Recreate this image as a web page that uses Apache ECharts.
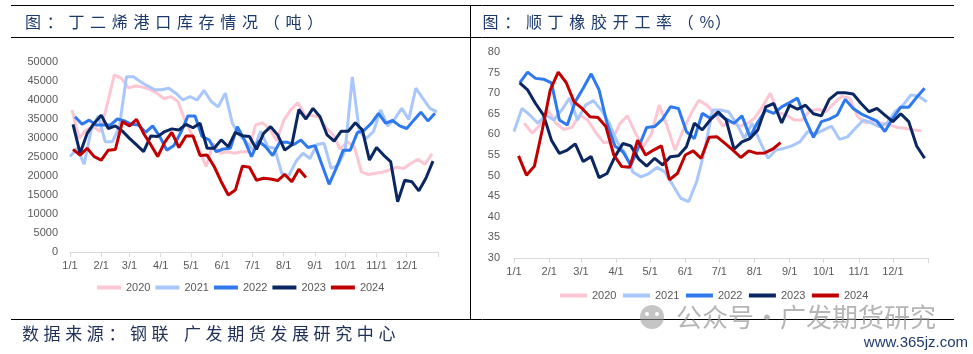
<!DOCTYPE html>
<html>
<head>
<meta charset="utf-8">
<title>丁二烯港口库存 / 顺丁橡胶开工率</title>
<script src="https://cdn.jsdelivr.net/npm/echarts@6/dist/echarts.min.js"></script>
<style>
  html, body { margin: 0; padding: 0; background: #fff; }
  #chart { width: 973px; height: 354px; }
</style>
</head>
<body>
<div id="chart"></div>
<script>
var years = ['2020', '2021', '2022', '2023', '2024'];
var monthDays = [0, 31, 59, 90, 120, 151, 181, 212, 243, 273, 304, 334];
var monthLabels = ['1/1', '2/1', '3/1', '4/1', '5/1', '6/1', '7/1', '8/1', '9/1', '10/1', '11/1', '12/1'];

// 丁二烯港口库存（吨），周度
var stock2020 = [37400, 29900, 32100, 33000, 31700, 38900, 46600, 45700, 43200, 43700, 43400, 42800, 41800, 40400, 40900, 39600, 34700, 30800, 26800, 22500, 28600, 26000, 26400, 26000, 26400, 26400, 33400, 34000, 32400, 29200, 34700, 37400, 39300, 36000, 35900, 35600, 32700, 30800, 27100, 29000, 27700, 21100, 20400, 20700, 21000, 21600, 22300, 22000, 23300, 24400, 23100, 25800];
var stock2021 = [25100, 27300, 23100, 32100, 35800, 29000, 29000, 33000, 46100, 46100, 44800, 43700, 42700, 42700, 43100, 41800, 40000, 40900, 40000, 42500, 39600, 38200, 41800, 33900, 30800, 28800, 26800, 31800, 27700, 27300, 20700, 20100, 23800, 26000, 24600, 28300, 28600, 22000, 22900, 26800, 46100, 31700, 29900, 31700, 37400, 33200, 35000, 37800, 34900, 43100, 40400, 37800, 36900];
var stock2022 = [35600, 33600, 34700, 33400, 33400, 33400, 35000, 34500, 33600, 33400, 31500, 33200, 30400, 26800, 28000, 31500, 35800, 35800, 30400, 29500, 26400, 27100, 27300, 33000, 29500, 25100, 29200, 27700, 25400, 28900, 28900, 28300, 29500, 27500, 28000, 22900, 17800, 22000, 26800, 26800, 31400, 32100, 33900, 36500, 33900, 34600, 33200, 32500, 34700, 36800, 34500, 36500];
var stock2023 = [33600, 26000, 31200, 33900, 36000, 32500, 33200, 31800, 29900, 28200, 26400, 30500, 30400, 31700, 32400, 32100, 33600, 32700, 33900, 27300, 27300, 29500, 27700, 31500, 30600, 30400, 27000, 31200, 33000, 30800, 26800, 28200, 37500, 35000, 37800, 35600, 30800, 29200, 31800, 31800, 34000, 32100, 24200, 27500, 25500, 23800, 13200, 18900, 18500, 16100, 19400, 23900];
var stock2024 = [27000, 25500, 27300, 25100, 24200, 26800, 27000, 34300, 33200, 34900, 31200, 28300, 25100, 28900, 31500, 27500, 30500, 30500, 25400, 25500, 22500, 18500, 15000, 16300, 22600, 22300, 18900, 19400, 19200, 18800, 20400, 18500, 21800, 19600];
var stockFirstDay = [2, 0, 5, 3, 3]; // 每年第一期数据的日序

// 顺丁橡胶开工率（%），周度
var rate2020 = [62.7, 60.3, 62.3, 65.9, 62.7, 61.2, 61.7, 64.7, 63.5, 60.5, 58, 58.2, 62.5, 64.5, 60.3, 57, 60, 67.1, 62, 56.2, 61, 65, 68.3, 67.1, 65.1, 62, 63.1, 62, 62.5, 63.9, 66.7, 70, 65.3, 64.7, 63.5, 63.5, 65.8, 66.1, 65.5, 67.5, 69.2, 68.8, 64.3, 62.8, 63.5, 62.7, 62.3, 61.7, 61.5, 61.1, 60.9];
var rate2021 = [60.7, 66.3, 64.7, 62.7, 64.7, 63.5, 65.9, 68.8, 63.5, 67.1, 68.2, 65.9, 62.7, 58.2, 55.4, 50.8, 49.7, 50.5, 52, 50.9, 47.7, 44.5, 43.7, 48.5, 56, 65.9, 65.9, 65.5, 62.8, 59, 62.7, 58.2, 54.2, 56.2, 56.6, 57.2, 58.2, 60.7, 60.1, 61.1, 62, 58.8, 59.4, 61.5, 63.5, 62.8, 61.9, 62.8, 65.5, 67.1, 69.6, 69.2, 67.9];
var rate2022 = [72.5, 75.1, 73.6, 73.4, 72.5, 63.5, 62.3, 67.9, 71.2, 74.7, 70.8, 62.7, 57.2, 55.8, 52.5, 57.0, 61.7, 61.9, 63.7, 66.7, 66.3, 60.7, 59, 65.1, 63.9, 65.0, 63.7, 62.7, 64.5, 59.4, 63, 65.9, 65.1, 66.7, 67.7, 68.8, 63.5, 59.3, 63.1, 63.7, 64.7, 68.5, 66.3, 65, 64.1, 63.2, 60.7, 63.9, 66.6, 66.6, 69, 71.2];
var rate2023 = [72.5, 70.8, 67.5, 64.7, 58.6, 55.4, 56.2, 57.7, 53.4, 54.6, 49.5, 50.5, 54.6, 57.8, 57.2, 54, 52.3, 54.2, 52.6, 54.6, 54.8, 57, 62.7, 61.1, 63.5, 65.5, 63.5, 56.4, 58.2, 59.0, 61.1, 66.7, 67.5, 62.8, 67.1, 66.1, 67.1, 65, 64.5, 68.5, 70.1, 70.1, 69.8, 67.5, 65.5, 66.3, 64.7, 63.1, 65, 63.1, 57.2, 54.2];
var rate2024 = [54.8, 50.1, 52.3, 61.2, 70.8, 75.1, 72.6, 67.9, 66.3, 64.3, 64.1, 61.9, 55, 52.2, 52, 58.6, 55, 56.2, 57.2, 49, 50.5, 55, 56, 54.2, 59.3, 59.4, 57.8, 56.2, 54.4, 56.0, 55.4, 55.5, 56.4, 58.0];
var rateFirstDay = [9, 0, 5, 5, 4];

var stockSeries = [stock2020, stock2021, stock2022, stock2023, stock2024];
var rateSeries = [rate2020, rate2021, rate2022, rate2023, rate2024];
var colors = ['#FCC6D3', '#A9C7FB', '#2E79EE', '#0B2762', '#C00000'];

var labelFont = 'Liberation Sans';
var labelColor = '#595959';

function toPoints(values, firstDay) {
  return values.map(function (v, i) { return [firstDay + 7 * i, v]; });
}

// 逐字排版，模拟原图的字距
function spacedText(str, x, y, pitch, size, color) {
  var out = [];
  var cx = x;
  for (var i = 0; i < str.length; i++) {
    var ch = str[i];
    if (ch !== ' ') {
      out.push({
        type: 'text',
        style: {
          text: ch, x: cx, y: y, fill: color,
          fontSize: size, fontFamily: 'Noto Sans CJK SC',
          verticalAlign: 'middle', align: 'left'
        }
      });
    }
    if (ch === ' ') cx += pitch * 0.5;
    else if (ch.charCodeAt(0) < 128) cx += pitch * 0.72;
    else cx += pitch;
  }
  return out;
}

function makeXAxis(gridIndex) {
  return {
    type: 'value', gridIndex: gridIndex, min: 0, max: 365,
    axisLine: { lineStyle: { color: '#D9D9D9', width: 1 } },
    axisTick: { show: true, customValues: monthDays.concat([365]), length: 5, lineStyle: { color: '#D9D9D9' } },
    axisLabel: {
      customValues: monthDays,
      margin: 8,
      color: labelColor, fontSize: 11, fontFamily: labelFont,
      formatter: function (v) { return monthLabels[monthDays.indexOf(v)]; }
    },
    splitLine: { show: false }
  };
}

function makeYAxis(gridIndex, min, max, interval, margin) {
  return {
    type: 'value', gridIndex: gridIndex, min: min, max: max, interval: interval,
    axisLine: { show: false }, axisTick: { show: false },
    axisLabel: {
      color: labelColor, fontSize: 11, fontFamily: labelFont, margin: margin,
      formatter: function (v) { return String(v); }
    },
    splitLine: { show: false }
  };
}

var series = [];
years.forEach(function (y, k) {
  series.push({
    name: y, type: 'line', xAxisIndex: 0, yAxisIndex: 0,
    data: toPoints(stockSeries[k], stockFirstDay[k]),
    symbol: 'none', color: colors[k],
    lineStyle: { width: 3, color: colors[k] }, z: 2 + k
  });
});
years.forEach(function (y, k) {
  series.push({
    name: y, type: 'line', xAxisIndex: 1, yAxisIndex: 1,
    data: toPoints(rateSeries[k], rateFirstDay[k]),
    symbol: 'none', color: colors[k],
    lineStyle: { width: 3, color: colors[k] }, z: 2 + k
  });
});

var legendText = { color: labelColor, fontSize: 11, fontFamily: labelFont };

var graphics = [
  { type: 'line', shape: { x1: 11, y1: 5.5, x2: 954, y2: 5.5 }, style: { stroke: '#000', lineWidth: 1 } },
  { type: 'line', shape: { x1: 11, y1: 37.5, x2: 954, y2: 37.5 }, style: { stroke: '#000', lineWidth: 1 } },
  { type: 'line', shape: { x1: 470.5, y1: 5, x2: 470.5, y2: 319 }, style: { stroke: '#000', lineWidth: 1 } },
  { type: 'line', shape: { x1: 11, y1: 319.5, x2: 954, y2: 319.5 }, style: { stroke: '#000', lineWidth: 1 } },
  // 水印
  { type: 'circle', shape: { cx: 652, cy: 317, r: 12 }, style: { fill: 'rgba(150,150,150,0.55)' } },
  { type: 'circle', shape: { cx: 647, cy: 314, r: 2 }, style: { fill: '#fff' } },
  { type: 'circle', shape: { cx: 657, cy: 314, r: 2 }, style: { fill: '#fff' } },
  {
    type: 'text',
    style: {
      text: '公众号·广发期货研究', x: 676, y: 317, fill: 'rgba(150,150,150,0.7)',
      fontSize: 26, fontFamily: 'Noto Sans CJK SC', verticalAlign: 'middle'
    }
  },
  {
    type: 'text',
    style: {
      text: 'www.365jz.com', x: 968, y: 343, fill: '#1F3A6B', align: 'right',
      fontSize: 15, fontFamily: 'Liberation Sans Narrow, Liberation Sans', verticalAlign: 'middle'
    }
  }
];
graphics = graphics
  .concat(spacedText('图：丁二烯港口库存情况（吨）', 25, 22, 21.7, 16, '#1B3A6B'))
  .concat(spacedText('图：顺丁橡胶开工率（%）', 482.5, 22, 21.7, 16, '#1B3A6B'))
  .concat(spacedText('数据来源：钢联 广发期货发展研究中心', 22, 334, 21.6, 17, '#1F2F55'));

var option = {
  animation: false,
  backgroundColor: '#fff',
  grid: [
    { left: 70, right: 535, top: 62, bottom: 102 },
    { left: 514, right: 45, top: 52, bottom: 96 }
  ],
  xAxis: [makeXAxis(0), makeXAxis(1)],
  yAxis: [makeYAxis(0, 0, 50000, 5000, 12), makeYAxis(1, 30, 80, 5, 14)],
  legend: [
    { left: 97, top: 282, padding: 0, icon: 'rect', itemWidth: 24, itemHeight: 4, itemGap: 5, textStyle: legendText, data: years },
    { left: 560, top: 290, padding: 0, icon: 'rect', itemWidth: 27, itemHeight: 4, itemGap: 6.5, textStyle: legendText, data: years }
  ],
  series: series,
  graphic: graphics
};

var chart = echarts.init(document.getElementById('chart'));
chart.setOption(option);
</script>
</body>
</html>
